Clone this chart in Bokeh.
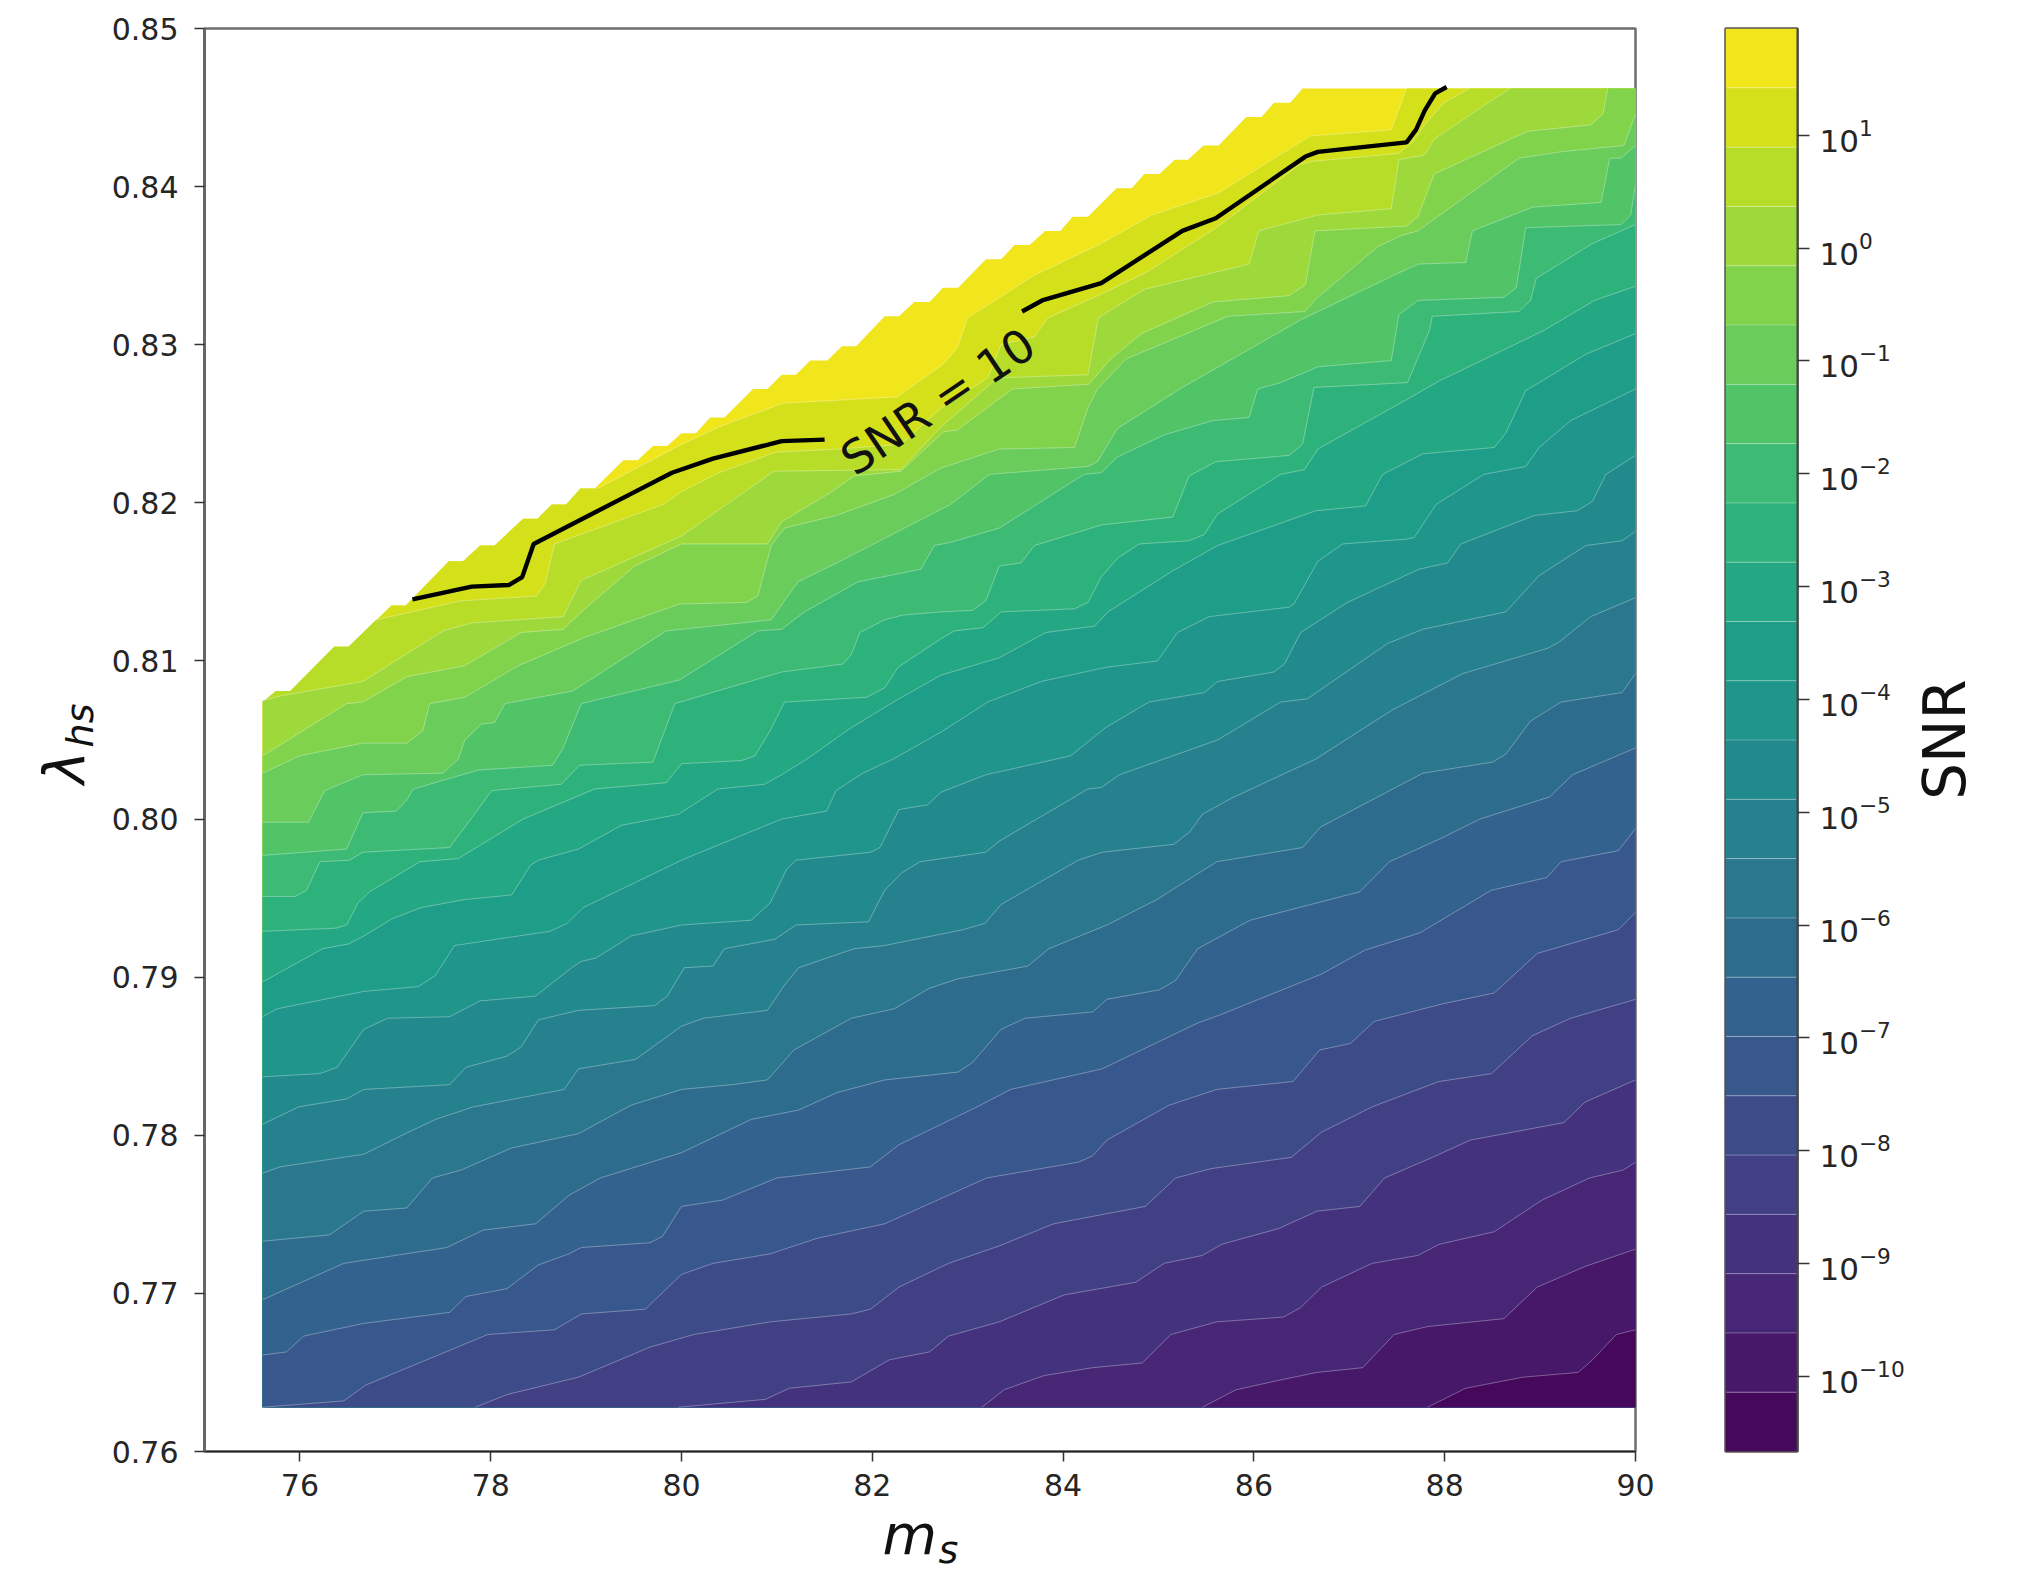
from bokeh.embed import file_html
from bokeh.resources import INLINE
from bokeh.plotting import figure
from bokeh.layouts import row, column
from bokeh.models import Range1d, FixedTicker, NumeralTickFormatter, Label
from bokeh.palettes import Viridis256

# ---------- data (m_s, lambda_hs) ----------
x_min, y_bot, y_top, x_max = 75.61, 0.7628, 0.8462, 90.0

level_exponents = [-10.666,-10.14,-9.615,-9.09,-8.564,-8.039,-7.513,-6.988,-6.462,-5.937,-5.411,-4.886,
                   -4.36,-3.835,-3.31,-2.784,-2.259,-1.733,-1.208,-0.682,-0.157,0.369,0.894,1.42,1.946]
colorbar_ticks = [1e-10,1e-9,1e-8,1e-7,1e-6,1e-5,1e-4,1e-3,1e-2,1e-1,1e0,1e1]

upper_edge = [(75.61,.8074),(75.75,.8081),(75.90,.8081),(76.36,.8109),(76.51,.8109),(76.96,.8135),(77.11,.8135),
 (77.56,.8163),(77.71,.8163),(77.89,.8173),(78.04,.8173),(78.34,.8190),(78.49,.8190),(78.64,.8199),(78.79,.8199),
 (78.94,.8209),(79.09,.8209),(79.39,.8227),(79.54,.8227),(79.70,.8236),(79.85,.8236),(80.0,.8244),(80.15,.8244),
 (80.30,.8254),(80.45,.8254),(80.75,.8272),(80.90,.8272),(81.05,.8281),(81.20,.8281),(81.35,.8290),(81.53,.8290),
 (81.68,.8299),(81.83,.8299),(82.13,.8318),(82.28,.8318),(82.44,.8327),(82.60,.8327),(82.74,.8336),(82.90,.8336),
 (83.19,.8354),(83.35,.8354),(83.49,.8363),(83.65,.8363),(83.81,.8372),(83.97,.8372),(84.10,.8381),(84.26,.8381),
 (84.56,.8399),(84.72,.8399),(84.85,.8408),(85.01,.8408),(85.17,.8417),(85.31,.8417),(85.47,.8426),(85.63,.8426),
 (85.92,.8444),(86.08,.8444),(86.21,.8453),(86.38,.8453),(86.51,.8462),(90.0,.8462)]

ms_00 = [87.82,88.22,88.82,89.40,89.55,89.80,90]
lam_00 = [.7628,.7640,.7647,.7650,.7658,.7674,.7677]
ms_01 = [85.46,85.81,86.26,86.66,87.14,87.47,87.82,88.62,88.97,89.47,90]
lam_01 = [.7628,.7639,.7645,.7650,.7653,.7674,.7679,.7684,.7704,.7717,.7728]
ms_02 = [83.15,83.38,83.80,84.31,84.83,85.13,85.61,86.31,86.49,86.71,87.24,87.72,87.94,88.52,89.02,89.52,89.87,90]
lam_02 = [.7628,.7639,.7648,.7653,.7656,.7674,.7682,.7685,.7691,.7704,.7719,.7724,.7731,.7739,.7759,.7773,.7778,.7783]
ms_03 = [79.97,80.88,81.13,81.78,82.18,82.60,82.80,83.33,84.01,84.76,85.06,85.46,85.66,86.26,86.66,87.11,87.37,87.87,88.27,89.25,89.47,90]
lam_03 = [.7628,.7633,.7640,.7644,.7658,.7663,.7673,.7682,.7699,.7707,.7719,.7724,.7731,.7741,.7752,.7755,.7773,.7786,.7797,.7808,.7821,.7835]
ms_04 = [77.84,78.17,78.92,79.67,80.13,80.93,81.78,81.98,82.28,82.80,83.33,83.90,84.86,85.18,85.56,86.39,86.71,87.24,87.94,88.49,88.92,89.32,90]
lam_04 = [.7628,.7636,.7647,.7666,.7674,.7682,.7687,.7690,.7704,.7719,.7730,.7744,.7755,.7773,.7779,.7786,.7802,.7818,.7834,.7839,.7863,.7874,.7886]
ms_05 = [75.61,76.46,76.69,77.57,77.97,78.67,78.95,79.62,80.0,80.33,80.93,81.43,82.13,83.20,84.16,84.31,84.46,85.11,85.61,86.41,86.69,87.01,87.26,87.97,88.52,88.97,89.82,90]
lam_05 = [.7628,.7632,.7642,.7664,.7674,.7677,.7687,.7690,.7712,.7719,.7725,.7735,.7744,.7773,.7783,.7787,.7797,.7819,.7829,.7834,.7854,.7858,.7872,.7883,.7890,.7915,.7930,.7941]
ms_06 = [75.61,75.86,76.04,76.67,77.57,77.74,78.17,78.50,78.82,78.95,79.67,79.80,80.0,80.43,81.0,81.98,82.28,83.10,83.45,84.41,85.41,85.64,86.71,87.16,87.74,88.49,89.07,89.22,89.82,90]
lam_06 = [.7661,.7663,.7673,.7681,.7688,.7698,.7703,.7718,.7725,.7729,.7732,.7736,.7755,.7759,.7773,.7780,.7794,.7818,.7829,.7842,.7871,.7876,.7902,.7917,.7928,.7955,.7963,.7973,.7980,.7994]
ms_07 = [75.61,76.46,77.54,77.92,78.47,78.82,79.15,80.0,80.73,81.23,81.63,82.13,82.90,83.05,83.35,83.60,84.31,84.46,85.01,85.18,85.41,85.96,87.11,87.42,87.97,88.37,89.10,89.34,90]
lam_07 = [.7696,.7719,.7729,.7740,.7744,.7762,.7773,.7789,.7810,.7816,.7827,.7835,.7840,.7846,.7867,.7874,.7878,.7886,.7892,.7898,.7918,.7936,.7954,.7973,.7988,.8000,.8014,.8028,.8045]
ms_08 = [75.61,76.31,76.67,77.12,77.39,77.69,78.22,78.92,79.47,80.0,80.53,80.90,81.18,81.78,82.23,82.60,82.90,83.63,83.85,84.46,84.98,85.61,86.51,86.70,87.77,88.50,88.64,88.90,89.22,89.86,90]
lam_08 = [.7733,.7737,.7752,.7754,.7773,.7778,.7792,.7801,.7819,.7829,.7832,.7835,.7854,.7874,.7880,.7893,.7899,.7907,.7918,.7933,.7949,.7973,.7982,.7995,.8029,.8036,.8041,.8062,.8074,.8080,.8092]
ms_09 = [75.61,75.79,76.67,77.07,77.42,77.82,78.77,78.92,79.52,80.0,80.23,80.90,81.08,81.23,81.81,82.13,82.95,83.18,83.35,84.16,84.41,85.16,85.33,85.46,85.76,86.65,87.45,88.19,89.08,89.20,89.53,90]
lam_09 = [.7776,.7780,.7788,.7800,.7810,.7818,.7829,.7842,.7848,.7869,.7874,.7879,.7895,.7906,.7918,.7920,.7930,.7934,.7946,.7974,.7979,.7984,.7992,.8003,.8013,.8038,.8069,.8092,.8108,.8112,.8128,.8140]
ms_10 = [75.61,75.99,76.49,76.67,77.57,77.74,78.17,78.32,78.50,78.92,79.72,79.85,80.03,80.33,80.45,80.98,81.20,81.96,82.13,82.31,82.50,83.19,83.33,84.26,84.40,84.59,85.62,86.28,86.56,87.40,87.77,88.64,88.99,89.48,89.86,90]
lam_10 = [.7807,.7818,.7823,.7829,.7832,.7843,.7850,.7856,.7873,.7879,.7882,.7888,.7906,.7907,.7918,.7924,.7933,.7935,.7955,.7966,.7973,.7979,.7986,.8019,.8020,.8028,.8050,.8074,.8076,.8111,.8120,.8131,.8154,.8173,.8176,.8182]
ms_11 = [75.61,76.21,76.39,76.67,76.92,77.57,77.89,78.47,78.85,78.95,79.10,79.47,80.0,80.73,80.93,81.10,81.20,81.98,82.08,82.28,82.58,82.72,83.19,84.08,84.45,84.90,85.48,85.62,86.21,86.32,86.49,86.98,87.73,88.03,88.17,88.94,89.39,89.55,89.69,90]
lam_11 = [.7837,.7839,.7843,.7867,.7874,.7875,.7885,.7888,.7906,.7910,.7912,.7926,.7933,.7936,.7947,.7968,.7974,.7979,.7982,.8006,.8009,.8017,.8028,.8040,.8058,.8074,.8080,.8087,.8093,.8098,.8118,.8137,.8158,.8162,.8174,.8192,.8195,.8201,.8218,.8230]
ms_12 = [75.61,75.76,76.67,77.24,77.42,77.62,78.62,78.80,78.97,80.0,81.05,81.52,81.62,81.90,82.22,82.72,83.21,83.77,84.45,84.99,85.20,85.53,86.37,86.42,86.67,86.93,87.59,87.68,87.91,88.41,88.85,88.99,89.32,90]
lam_12 = [.7875,.7880,.7891,.7894,.7901,.7920,.7929,.7934,.7944,.7974,.8000,.8005,.8018,.8029,.8038,.8055,.8074,.8087,.8096,.8100,.8118,.8128,.8134,.8136,.8163,.8174,.8177,.8178,.8199,.8218,.8223,.8235,.8252,.8272]
ms_13 = [75.61,76.24,76.51,76.67,76.97,77.27,77.72,78.22,78.42,78.50,78.92,79.37,79.97,80.38,80.87,81.05,81.34,81.76,82.22,82.72,83.33,83.82,84.33,84.47,85.15,85.62,86.65,87.17,87.35,87.77,88.52,88.64,88.85,88.99,89.48,90]
lam_13 = [.7897,.7918,.7921,.7926,.7937,.7944,.7949,.7952,.7971,.7974,.7981,.7996,.8003,.8019,.8022,.8028,.8039,.8057,.8074,.8091,.8102,.8118,.8122,.8131,.8157,.8173,.8195,.8198,.8218,.8231,.8235,.8244,.8271,.8276,.8294,.8307]

c14 = [(75.61,.7929),(76.38,.7931),(76.49,.7933),(76.61,.7947),(76.73,.7954),(77.26,.7973),(77.66,.7975),(78.34,.8000),(79.09,.8019),(79.84,.8023),(80.0,.8035),(80.63,.8037),(80.77,.8040),(80.93,.8056),(81.08,.8074),(81.94,.8077),(82.13,.8083),(82.27,.8096),(82.72,.8114),(82.86,.8119),(83.16,.8121),(83.35,.8131),(84.12,.8133),(84.26,.8137),(84.40,.8153),(84.57,.8165),(84.80,.8174),(85.32,.8176),(85.48,.8180),(85.62,.8193),(86.28,.8218),(86.53,.8221),(86.67,.8234),(87.68,.8268),(87.94,.8277),(89.04,.8309),(89.57,.8328),(90,.8337)]
c15 = [(75.61,.7951),(75.95,.7951),(76.07,.7955),(76.21,.7973),(76.52,.7974),(76.66,.7979),(77.57,.7982),(77.78,.7999),(78.01,.8018),(78.74,.8022),(78.93,.8034),(79.70,.8036),(79.93,.8073),(81.05,.8093),(81.69,.8098),(81.78,.8104),(81.87,.8118),(82.13,.8126),(82.32,.8129),(82.72,.8131),(83.05,.8132),(83.19,.8138),(83.33,.8160),(83.56,.8162),(83.70,.8173),(84.40,.8186),(85.15,.8191),(85.32,.8217),(85.60,.8226),(86.37,.8230),(86.51,.8237),(86.63,.8273),(87.61,.8276),(87.84,.8309),(87.87,.8318),(88.78,.8321),(88.90,.8328),(88.96,.8342),(89.55,.8364),(90,.8376)]
c16 = [(75.61,.7977),(76.49,.7981),(76.66,.8004),(77.01,.8005),(77.12,.8012),(77.19,.8019),(77.87,.8031),(78.65,.8034),(78.76,.8045),(78.95,.8073),(79.98,.8088),(80.80,.8119),(81.05,.8120),(81.29,.8131),(81.85,.8150),(82.51,.8158),(82.65,.8173),(82.82,.8175),(83.33,.8184),(84.22,.8218),(84.40,.8219),(84.57,.8229),(85.06,.8243),(85.57,.8252),(85.95,.8254),(86.04,.8272),(86.28,.8276),(86.67,.8286),(87.44,.8290),(87.52,.8319),(87.72,.8328),(88.62,.8330),(88.75,.8336),(88.85,.8374),(89.85,.8376),(89.95,.8382),(90,.8401)]
c17 = [(75.61,.7998),(76.09,.7998),(76.26,.8018),(76.66,.8028),(77.50,.8029),(77.66,.8038),(77.73,.8050),(77.90,.8060),(78.04,.8061),(78.15,.8073),(78.86,.8081),(79.84,.8119),(80.94,.8126),(81.22,.8150),(81.66,.8163),(82.82,.8199),(83.23,.8218),(84.26,.8223),(84.36,.8226),(84.57,.8247),(85.25,.8273),(86.50,.8316),(87.54,.8346),(87.72,.8351),(88.22,.8352),(88.29,.8372),(88.92,.8387),(89.64,.8390),(89.73,.8418),(89.85,.8418),(90,.8426)]
c18 = [(75.61,.8029),(76.0,.8040),(76.66,.8048),(77.12,.8048),(77.29,.8056),(77.36,.8073),(77.73,.8077),(78.29,.8097),(78.99,.8115),(79.98,.8136),(80.68,.8137),(80.80,.8141),(80.94,.8173),(81.08,.8184),(81.62,.8192),(82.22,.8205),(82.72,.8222),(83.33,.8234),(84.12,.8235),(84.26,.8260),(84.36,.8272),(84.66,.8291),(85.73,.8318),(86.53,.8321),(86.67,.8330),(87.30,.8362),(87.54,.8369),(87.72,.8372),(88.78,.8418),(89.22,.8422),(89.88,.8426),(90,.8446)]
c19 = [(75.61,.8040),(76.49,.8073),(76.66,.8074),(77.12,.8090),(77.73,.8097),(78.32,.8118),(78.76,.8120),(78.95,.8131),(79.51,.8160),(80.0,.8174),(80.90,.8174),(81.05,.8188),(81.55,.8206),(81.81,.8217),(82.30,.8220),(82.75,.8245),(82.89,.8246),(83.47,.8272),(84.27,.8275),(84.50,.8291),(84.82,.8307),(85.57,.8327),(86.37,.8331),(86.54,.8338),(86.64,.8372),(87.60,.8375),(87.72,.8381),(87.89,.8408),(88.87,.8435),(89.53,.8439),(89.66,.8446),(89.71,.8462)]
c20 = [(75.61,.8075),(75.81,.8078),(76.66,.8087),(77.50,.8119),(77.80,.8124),(78.76,.8128),(78.95,.8151),(80.0,.8179),(80.97,.8220),(82.30,.8221),(82.72,.8248),(83.31,.8279),(84.26,.8281),(84.37,.8317),(84.85,.8335),(85.95,.8351),(86.05,.8372),(86.67,.8382),(87.44,.8386),(87.52,.8417),(87.61,.8418),(87.79,.8420),(87.89,.8430),(88.48,.8454),(88.69,.8462)]
c21 = [(76.80,.8126),(77.69,.8138),(78.48,.8141),(78.57,.8149),(78.67,.8174),(79.81,.8199),(80.0,.8207),(80.39,.8219),(80.99,.8232),(81.65,.8234),(82.30,.8237),(82.72,.8260),(83.21,.8279),(83.35,.8300),(83.70,.8305),(83.84,.8317),(84.40,.8332),(84.88,.8346),(85.63,.8375),(86.48,.8414),(86.62,.8416),(87.52,.8421),(87.66,.8428),(87.79,.8439),(87.99,.8453),(88.26,.8462)]
c22 = [(79.12,.8209),(79.97,.8236),(80.39,.8248),(81.06,.8263),(82.26,.8267),(82.75,.8288),(82.89,.8298),(83.0,.8317),(83.70,.8344),(84.40,.8364),(84.93,.8382),(85.63,.8396),(86.59,.8432),(87.44,.8436),(87.52,.8449),(87.60,.8462)]

snr10_left = [(77.18,.8139),(77.80,.8147),(78.19,.8148),(78.33,.8153),(78.45,.8174),(79.48,.8206),(79.90,.8219),(80.33,.8228),(81.05,.8239),(81.50,.8240)]
snr10_right = [(83.57,.8321),(83.78,.8328),(84.40,.8339),(85.25,.8372),(85.60,.8380),(86.54,.8419),(86.67,.8422),(87.60,.8428),(87.70,.8436),(87.79,.8448),(87.90,.8459),(88.02,.8463)]

contours = [list(zip(ms_00,lam_00)),list(zip(ms_01,lam_01)),list(zip(ms_02,lam_02)),list(zip(ms_03,lam_03)),
            list(zip(ms_04,lam_04)),list(zip(ms_05,lam_05)),list(zip(ms_06,lam_06)),list(zip(ms_07,lam_07)),
            list(zip(ms_08,lam_08)),list(zip(ms_09,lam_09)),list(zip(ms_10,lam_10)),list(zip(ms_11,lam_11)),
            list(zip(ms_12,lam_12)),list(zip(ms_13,lam_13)),c14,c15,c16,c17,c18,c19,c20,c21,c22]

band_colors = [Viridis256[round((i+0.5)/24*255)] for i in range(24)]

FONT = "DejaVu Sans"
TICK = "#262626"

def below(cnt):
    pts = list(cnt)
    if pts[-1][1] >= y_top - 1e-6 and pts[-1][0] < x_max:
        pts.append((x_max, y_top))
    pts.append((x_max, y_bot))
    x0, y0 = cnt[0]
    if y0 > y_bot + 1e-6 or x0 <= x_min:
        pts.append((x_min, y_bot))
    if x0 > x_min and y0 > y_bot + 1e-6:
        pts += [q for q in upper_edge if q[0] < x0]
    return [q[0] for q in pts], [q[1] for q in pts]

ROW_H = 1511

p = figure(width=1594, height=ROW_H, frame_width=1431, frame_height=1423,
           min_border_left=100, min_border_right=63, min_border_top=28, min_border_bottom=60,
           x_range=Range1d(75, 90), y_range=Range1d(0.76, 0.85),
           output_backend="svg", toolbar_location=None, background_fill_color="white")
p.grid.visible = False
p.outline_line_color = "#6e6e6e"
p.outline_line_width = 2.5

dom = [(x_min, y_bot), (x_max, y_bot)] + upper_edge[::-1]
p.patch([q[0] for q in dom], [q[1] for q in dom], fill_color=band_colors[23], line_color=None)
for k in range(22, -1, -1):
    xs, ys = below(contours[k])
    p.patch(xs, ys, fill_color=band_colors[k], line_color=None)
p.multi_line([[q[0] for q in c] for c in contours], [[q[1] for q in c] for c in contours],
             line_color="white", line_alpha=0.32, line_width=1)
for seg in (snr10_left, snr10_right):
    p.line([q[0] for q in seg], [q[1] for q in seg], line_color="black", line_width=4.4)

for ax, ticks in ((p.xaxis[0], list(range(76, 92, 2))), (p.yaxis[0], [0.76,0.77,0.78,0.79,0.80,0.81,0.82,0.83,0.84,0.85])):
    ax.ticker = FixedTicker(ticks=ticks)
    ax.major_tick_out = 10
    ax.major_tick_in = 0
    ax.minor_tick_line_color = None
    ax.major_tick_line_color = "#333333"
    ax.major_tick_line_width = 1.5
    ax.major_label_text_font = FONT
    ax.major_label_text_font_size = "30px"
    ax.major_label_text_color = TICK
p.xaxis[0].major_label_standoff = 12
p.yaxis[0].major_label_standoff = 16
p.yaxis[0].formatter = NumeralTickFormatter(format="0.00")
p.xaxis[0].axis_line_color = "#222222"
p.xaxis[0].axis_line_width = 1.6
p.yaxis[0].axis_line_color = "#666666"
p.yaxis[0].axis_line_width = 3

def lab(fig, text, x, y, size, italic=False, angle=0, align="left", base="alphabetic"):
    fig.add_layout(Label(x=x, y=y, text=text, text_font=FONT, text_font_size=size,
                         text_font_style="italic" if italic else "normal", text_color="#111111",
                         angle=angle, angle_units="deg", text_align=align, text_baseline=base))

def text_panel(w, h):
    """an empty panel, its ranges in pixels from its top-left corner, to hold a label"""
    f = figure(width=w, height=h, frame_width=w, frame_height=h, min_border=0,
               x_range=Range1d(0, w), y_range=Range1d(h, 0), x_axis_location=None, y_axis_location=None,
               output_backend="svg", toolbar_location=None, outline_line_color=None)
    f.grid.visible = False
    return f

lab(p, "SNR = 10", 82.69, 0.8264, "46px", angle=34, align="center", base="middle")

# ---------- colour bar ----------
levels = [10**e for e in level_exponents]
cb = figure(width=217, height=ROW_H, frame_width=72, frame_height=1423,
            min_border_left=27, min_border_right=118, min_border_top=28, min_border_bottom=60,
            x_range=Range1d(0, 1), y_range=Range1d(levels[0], levels[-1]), y_axis_type="log",
            y_axis_location="right", output_backend="svg", toolbar_location=None)
cb.grid.visible = False
cb.xaxis.visible = False
cb.outline_line_color = "#555555"
cb.outline_line_width = 2.5
cb.quad(left=0, right=1, bottom=levels[:-1], top=levels[1:], fill_color=band_colors, line_color=None)
cb.segment(x0=[0]*23, x1=[1]*23, y0=levels[1:-1], y1=levels[1:-1], line_color="white", line_alpha=0.3, line_width=1)
ay = cb.yaxis[0]
ay.ticker = FixedTicker(ticks=colorbar_ticks)
ay.major_tick_out = 12
ay.major_tick_in = 0
ay.major_tick_line_color = "#333333"
ay.major_tick_line_width = 1.5
ay.minor_tick_line_color = None
ay.axis_line_color = "#444444"
ay.axis_line_width = 2
ay.major_label_text_font = FONT
ay.major_label_text_font_size = "31px"
ay.major_label_text_color = TICK
ay.major_label_standoff = 10

# ---------- axis-label panels ----------
ylab = text_panel(104, ROW_H)
lab(ylab, "\u03bb", 64, 739, "56px", italic=True, angle=90, align="center")
lab(ylab, "hs", 79, 697, "38px", italic=True, angle=90, align="center")
snrlab = text_panel(110, ROW_H)
lab(snrlab, "SNR", 29, 711, "58px", angle=90, align="center")
xlab = text_panel(2025, 60)
lab(xlab, "m", 882, 23, "56px", italic=True)
lab(xlab, "s", 938, 38, "38px", italic=True)

layout = column(row(ylab, p, cb, snrlab, spacing=0), xlab, spacing=0)
open("out.html", "w").write(file_html(layout, INLINE))
